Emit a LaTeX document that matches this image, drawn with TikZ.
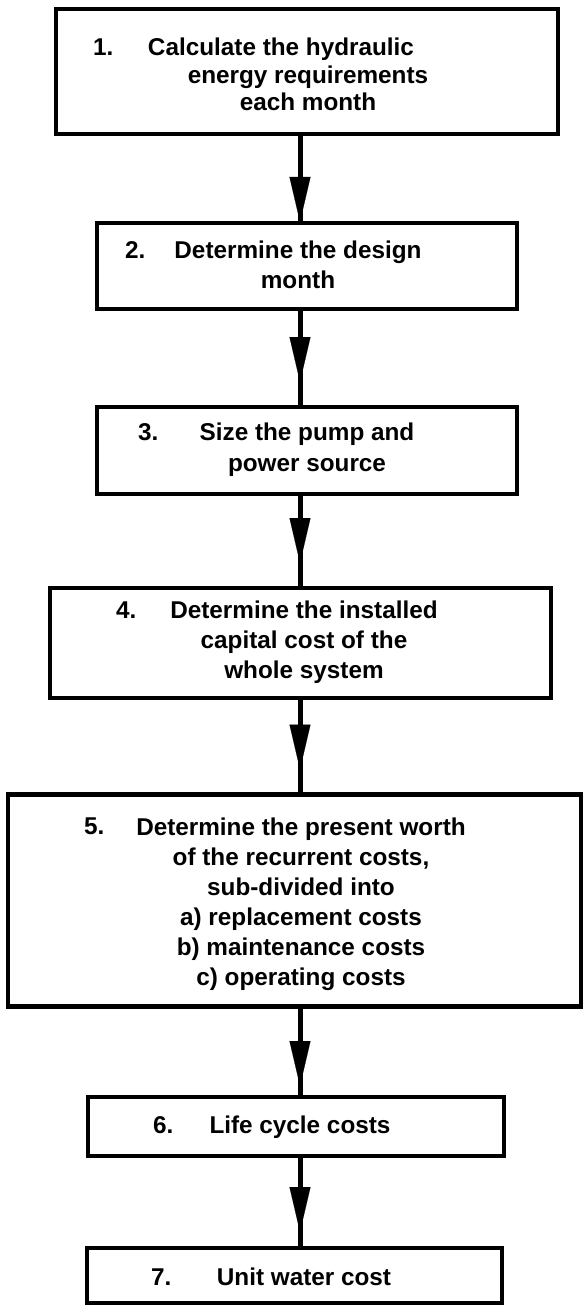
\documentclass[tikz,border=0pt]{standalone}
\usepackage{fontspec}
\setmainfont{Liberation Sans}
\usetikzlibrary{arrows.meta,decorations.markings}
\tikzset{
  box/.style={draw, line width=4.5pt, inner sep=0pt, outer sep=0pt, rectangle},
  lbl/.style={font=\bfseries\fontsize{24.3}{30}\selectfont, align=center, anchor=base, inner sep=0pt},
  num/.style={font=\bfseries\fontsize{24.3}{30}\selectfont, anchor=base west, inner sep=0pt},
  conn/.style={line width=5pt, decoration={markings, mark=at position #1 with {\arrow{Triangle[length=45pt,width=21pt,line width=0.1pt]}}}, postaction={decorate}},
  conn/.default=-1pt
}
\begin{document}
\begin{tikzpicture}[x=1pt,y=-1pt]
\useasboundingbox (0,0) rectangle (584,1305);
\coordinate (ax) at (300,0);
% boxes
\node[box, minimum width=502pt, minimum height=125pt] (b1) at (307,71.5) {};
\node[box, minimum width=420pt, minimum height=86pt] (b2) at (307,266) {};
\node[box, minimum width=420pt, minimum height=87pt] (b3) at (307,450.5) {};
\node[box, minimum width=501pt, minimum height=110pt] (b4) at (300.5,643) {};
\node[box, minimum width=573pt, minimum height=212pt] (b5) at (294.5,900.5) {};
\node[box, minimum width=416pt, minimum height=59pt] (b6) at (296,1126.5) {};
\node[box, minimum width=415pt, minimum height=55pt] (b7) at (294.5,1275.5) {};
% numbers
\node[num] (n1) at (93,56) {1.};
\node[num] (n2) at (125,258.5) {2.};
\node[num] (n3) at (138,440.5) {3.};
\node[num] (n4) at (116,618.5) {4.};
\node[num] (n5) at (84,834.5) {5.};
\node[num] (n6) at (153,1133.5) {6.};
\node[num] (n7) at (151,1285) {7.};
% texts (base anchor = baseline of last line)
\node[lbl, font=\bfseries\fontsize{24.3}{27.5}\selectfont] (t1) at (308,111) {Calculate the hydraulic\kern54pt\\energy requirements\\each month};
\node[lbl] (t2) at (298,288.5) {Determine the design\\month};
\node[lbl, font=\bfseries\fontsize{24.3}{31}\selectfont] (t3) at (307,471.5) {Size the pump and\\power source};
\node[lbl] (t4) at (304,678.5) {Determine the installed\\capital cost of the\\whole system};
\node[lbl] (t5) at (301,985.5) {Determine the present worth\\of the recurrent costs,\\sub-divided into\\a) replacement costs\\b) maintenance costs\\c) operating costs};
\node[lbl] (t6) at (300,1133.5) {Life cycle costs};
\node[lbl] (t7) at (304,1285) {Unit water cost};
% connectors
\draw[conn] (b1.south -| ax) -- (b2.north -| ax);
\draw[conn=-25pt] (b2.south -| ax) -- (b3.north -| ax);
\draw[conn=-25pt] (b3.south -| ax) -- (b4.north -| ax);
\draw[conn=-25pt] (b4.south -| ax) -- (b5.north -| ax);
\draw[conn=-11pt] (b5.south -| ax) -- (b6.north -| ax);
\draw[conn=-16pt] (b6.south -| ax) -- (b7.north -| ax);
\end{tikzpicture}
\end{document}
